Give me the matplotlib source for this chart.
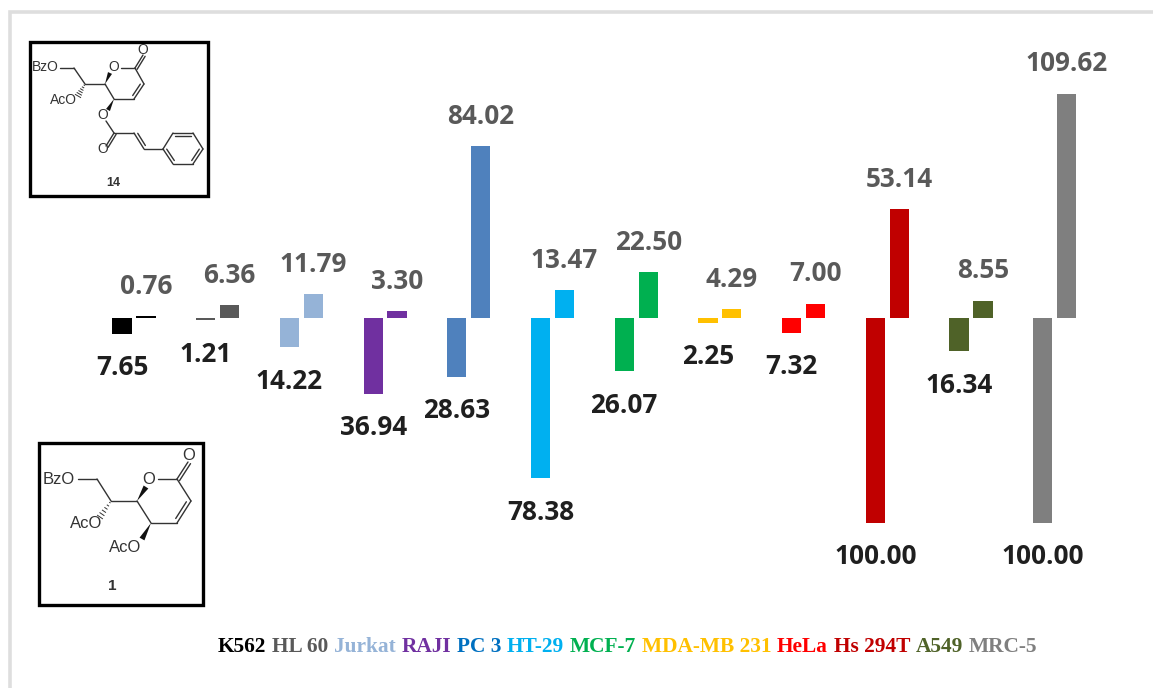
import matplotlib
matplotlib.use("Agg")
import matplotlib.pyplot as plt
from matplotlib.patches import Rectangle, Polygon
import numpy as np

W, H = 1153, 688
cell_lines = ["K562", "HL 60", "Jurkat", "RAJI", "PC 3", "HT-29", "MCF-7",
              "MDA-MB 231", "HeLa", "Hs 294T", "A549", "MRC-5"]
compound_1 = [7.65, 1.21, 14.22, 36.94, 28.63, 78.38, 26.07, 2.25, 7.32, 100.00, 16.34, 100.00]
compound_14 = [0.76, 6.36, 11.79, 3.30, 84.02, 13.47, 22.50, 4.29, 7.00, 53.14, 8.55, 109.62]
bar_colors = ["#000000", "#595959", "#95B3D7", "#7030A0", "#4F81BD", "#00B0F0",
              "#00B050", "#FFC000", "#FF0000", "#C00000", "#4F6228", "#7F7F7F"]
legend_colors = ["#000000", "#595959", "#95B3D7", "#7030A0", "#0070C0", "#00B0F0",
                 "#00B050", "#FFC000", "#FF0000", "#C00000", "#4F6228", "#7F7F7F"]

fig = plt.figure(figsize=(W / 100, H / 100), dpi=100, facecolor="white")
ax = fig.add_axes([0, 0, 1, 1])
ax.set_xlim(-134 / 83.7, (W - 134) / 83.7)
ax.set_ylim(-(H - 318) / 2.045, 318 / 2.045)
ax.axis("off")

x = np.arange(len(cell_lines))
off, bw = 0.143, 0.23
ax.bar(x - off, [-v for v in compound_1], width=bw, color=bar_colors)
ax.bar(x + off, compound_14, width=bw, color=bar_colors)

label_font = dict(family="Open Sans", fontweight="bold", fontsize=18.8, ha="center", va="center")
for xi, a, b in zip(x, compound_1, compound_14):
    ax.annotate(f"{a:.2f}", (xi - off, -a), xytext=(0, -24.5), textcoords="offset points",
                color="#1F1F1F", **label_font)
    ax.annotate(f"{b:.2f}", (xi + off, b), xytext=(0, 21.5), textcoords="offset points",
                color="#595959", **label_font)

# pixel-space overlay for frame, structures and the legend
ov = fig.add_axes([0, 0, 1, 1], facecolor="none")
ov.set_xlim(0, W)
ov.set_ylim(H, 0)
ov.axis("off")

ov.plot([9.5, 9.5, W], [H, 11.5, 11.5], color="#DEDEDE", lw=2.6, solid_joinstyle="miter")


def bonds(segs, lw=1.0):
    for s in segs:
        ov.plot([s[0], s[2]], [s[1], s[3]], color="#333333", lw=lw, solid_capstyle="round")


def double(s, side=1, gap=3.5, lw=1.0, trim=0.12):
    p, q = np.array(s[:2], float), np.array(s[2:], float)
    d = q - p
    n = np.array([-d[1], d[0]]) / np.hypot(*d) * gap * side
    a, b = p + d * trim + n, q - d * trim + n
    bonds([s, (a[0], a[1], b[0], b[1])], lw)


def wedge(p, q, w=2.6):
    p, q = np.array(p, float), np.array(q, float)
    d = q - p
    n = np.array([-d[1], d[0]]) / np.hypot(*d) * w
    ov.add_patch(Polygon([p, q + n, q - n], color="#111111", lw=0))


def hashed(p, q, w=3.0, k=6):
    p, q = np.array(p, float), np.array(q, float)
    d = q - p
    n = np.array([-d[1], d[0]]) / np.hypot(*d)
    for t in np.linspace(0.1, 1, k):
        c = p + d * t
        ov.plot(*zip(c - n * w * t, c + n * w * t), color="#333333", lw=0.7)


def atom(xp, yp, s, size, weight="normal"):
    ov.text(xp, yp, s, fontsize=size, family="Liberation Sans", fontweight=weight,
            ha="center", va="center", color="#333333")


# structure 14
ov.add_patch(Rectangle((29.5, 42), 178, 154, fc="white", ec="black", lw=2.4, zorder=0.5))
bonds([(60, 68, 74, 68), (74, 68, 85, 84), (85, 84, 105, 84), (121, 68, 135, 68),
       (135, 68, 144, 84), (134, 99, 114, 99), (114, 99, 105, 84),
       (106, 121, 114, 133), (114, 133, 134, 133), (144, 149, 163, 149)])
double((135, 68, 143, 55), side=1, gap=2.5, trim=0)
double((144, 84, 134, 99), side=1, gap=3)
double((114, 133, 106, 146), side=-1, gap=2.5, trim=0)
double((134, 133, 144, 149), side=-1, gap=3)
hexagon = [(163, 149), (173, 133), (193, 133), (203, 149), (193, 164), (173, 164)]
for i in range(6):
    s = hexagon[i] + hexagon[(i + 1) % 6]
    if i in (1, 3, 5):
        double(s, side=1, gap=3)
    else:
        bonds([s])
wedge((105, 84), (110, 73), 2.2)
wedge((114, 99), (108, 110), 2.2)
hashed((85, 84), (78, 96))
atom(45, 67, "BzO", 10)
atom(63, 100, "AcO", 10)
atom(114, 67, "O", 10)
atom(143, 50, "O", 10)
atom(103, 115, "O", 10)
atom(103, 149, "O", 10)
atom(113, 183, "14", 9, "bold")

# structure 1
ov.add_patch(Rectangle((38.5, 442.5), 164, 162, fc="white", ec="black", lw=2.4, zorder=0.5))
bonds([(78, 479, 97, 479), (97, 479, 111, 501), (111, 501, 137, 501), (158, 479, 177, 479),
       (177, 479, 191, 501), (177, 523, 151, 523), (151, 523, 137, 501)])
double((177, 479, 188, 462), side=1, gap=3, trim=0)
double((191, 501, 177, 523), side=1, gap=3.5)
wedge((137, 501), (146, 487), 2.8)
wedge((151, 523), (142, 539), 2.8)
hashed((111, 501), (100, 517))
atom(59, 479, "BzO", 12)
atom(86, 524, "AcO", 12)
atom(125, 547, "AcO", 12)
atom(149, 479, "O", 12)
atom(189, 455, "O", 12)
atom(112, 586, "1", 11, "bold")

# legend as a coloured run of text, placed by measured widths
renderer = fig.canvas.get_renderer()
cursor = 218.0
for name, col in zip(cell_lines, legend_colors):
    t = ov.text(cursor, 652, name, fontsize=15.4, family="Liberation Serif", fontweight="bold",
                color=col, va="baseline", ha="left")
    cursor = t.get_window_extent(renderer).x1 + 5.7

fig.savefig("out.png", dpi=100, facecolor="white")
